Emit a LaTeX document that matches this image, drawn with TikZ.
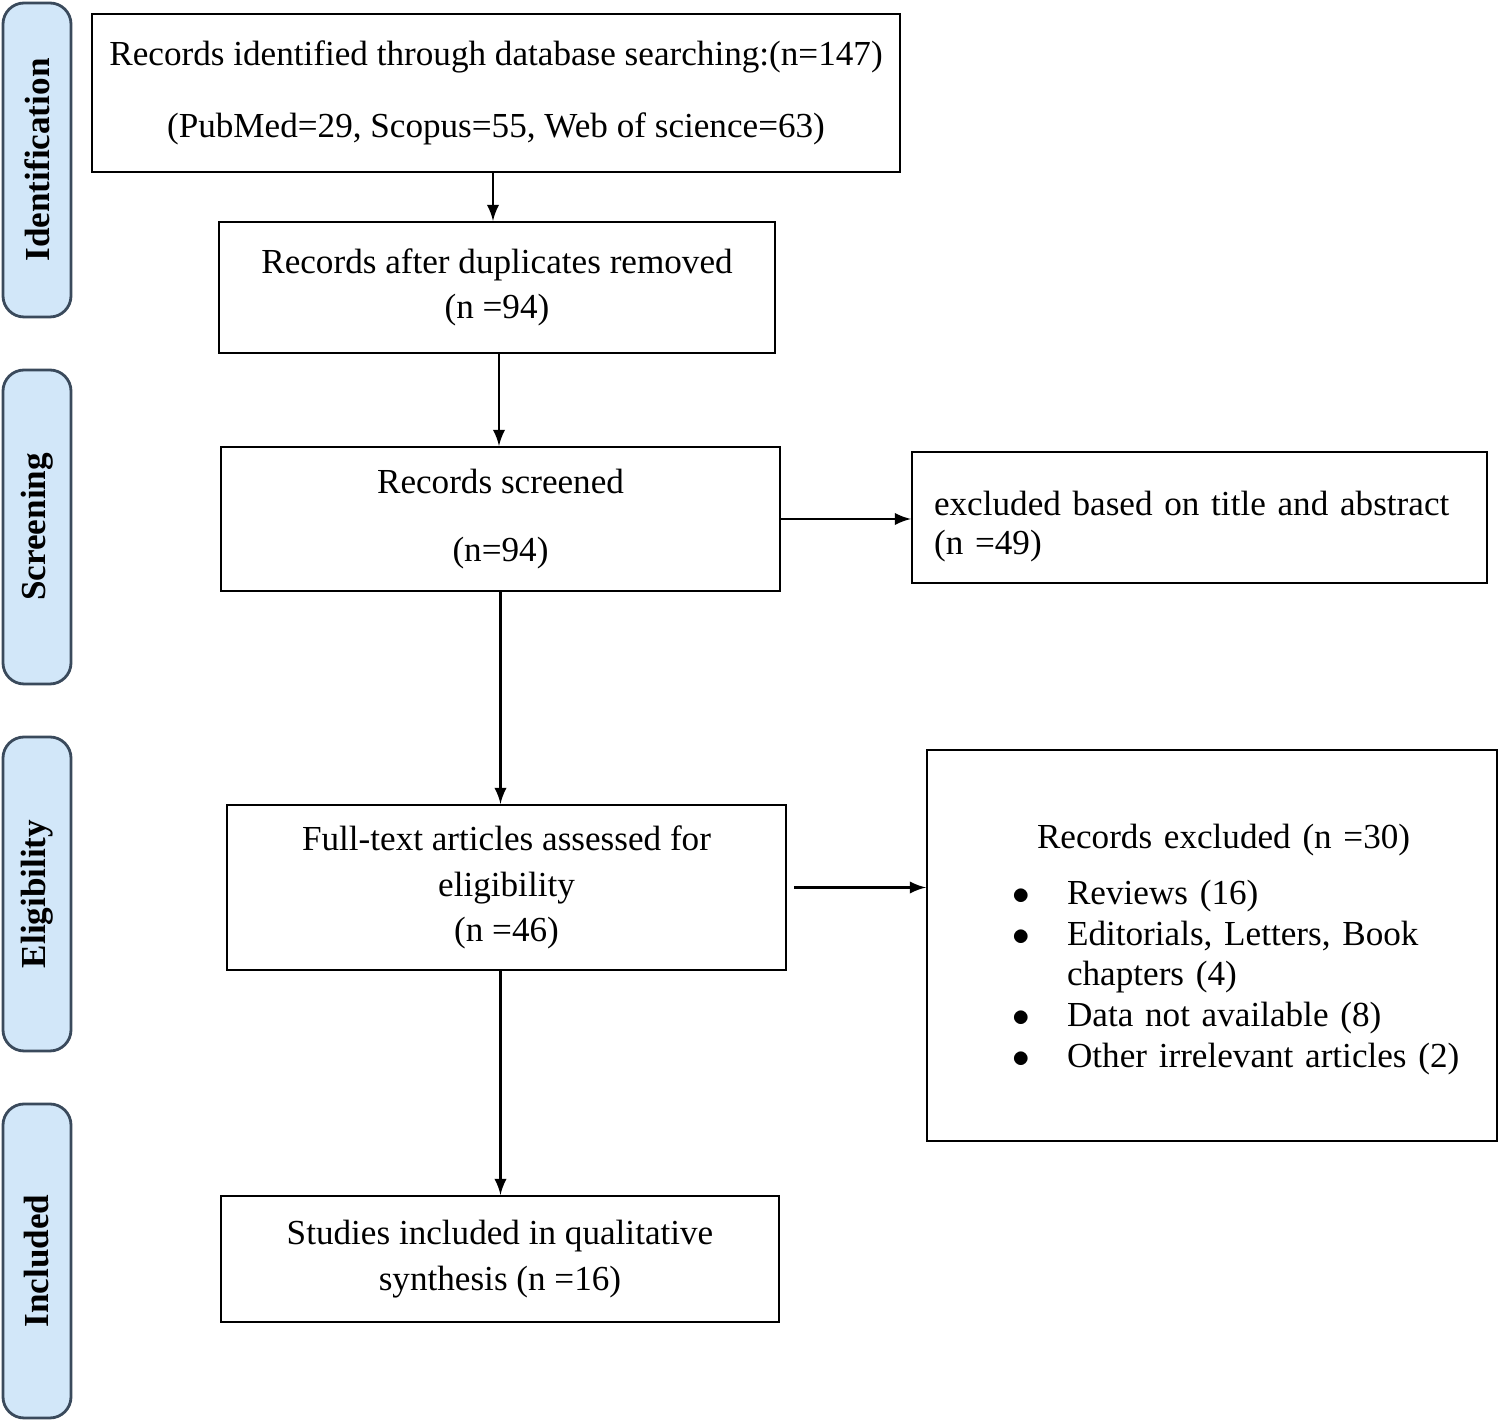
\documentclass[tikz,border=0pt]{standalone}
\usepackage{fontspec}
\setmainfont{Liberation Serif}
\usetikzlibrary{positioning}

\definecolor{barfill}{HTML}{D2E7F9}
\definecolor{barline}{HTML}{3A4A5C}

\tikzset{
  box/.style={draw,semithick,align=center,font=\fontsize{10}{13}\selectfont,inner sep=2pt},
  stage/.style={draw=barline,thick,fill=barfill,rounded corners=6pt,minimum width=0.68cm,minimum height=3.14cm},
  stagelabel/.style={rotate=90,font=\bfseries\fontsize{10}{12}\selectfont},
  arr/.style={semithick,-latex}
}

\begin{document}
\begin{tikzpicture}
  \useasboundingbox (0,0) rectangle (15,-14.21);
  % stage bars on the left
  \foreach \name/\yc in {Identification/1.60,Screening/5.27,Eligibility/8.94,Included/12.61}{
    \node[stage] (bar\name) at (0.37,-\yc) {};
    \node[stagelabel] (lab\name) at (bar\name) {\name};
  }
  % main boxes
  \node[box,minimum width=8.08cm,minimum height=1.58cm] (ident) at (4.96,-0.93)
    {Records identified through database searching:(n=147)\\[1.6ex](PubMed=29, Scopus=55, Web of science=63)};
  \node[box,minimum width=5.56cm,minimum height=1.31cm] (dupl) at (4.97,-2.875)
    {Records after duplicates removed\\(n =94)};
  \node[box,minimum width=5.59cm,minimum height=1.44cm] (screen) at (5.005,-5.19)
    {Records screened\\[1.4ex](n=94)};
  \node[box,minimum width=5.75cm,minimum height=1.31cm,anchor=north west,align=left,text width=5.55cm,inner sep=0pt] (excl) at (9.11,-4.51)
    {\rule{0pt}{2.6ex}\hspace*{0.12cm}excluded based on title and abstract\\[-0.4ex]\hspace*{0.12cm}(n =49)};
  \node[box,minimum width=5.70cm,minimum height=3.91cm,anchor=north west,align=left,text width=5.5cm,inner sep=0pt] (reject) at (9.26,-7.49)
    {\rule{0pt}{2.4ex}\hspace*{1.0cm}Records excluded (n =30)\\[0.8ex]
     \begin{tabular}{@{\hspace{0.75cm}}p{0.55cm}@{}l@{}}
       $\bullet$ & Reviews (16)\\[-0.3ex]
       $\bullet$ & Editorials, Letters, Book\\[-0.3ex]
                 & chapters (4)\\[-0.3ex]
       $\bullet$ & Data not available (8)\\[-0.3ex]
       $\bullet$ & Other irrelevant articles (2)
     \end{tabular}};
  \node[box,minimum width=5.59cm,minimum height=1.65cm] (full) at (5.065,-8.875)
    {Full-text articles assessed for\\eligibility\\(n =46)};
  \node[box,minimum width=5.58cm,minimum height=1.26cm] (incl) at (5.0,-12.59)
    {Studies included in qualitative\\synthesis (n =16)};
  % connectors
  \draw[arr] (ident.south -| dupl.north) ++(-0.04,0) coordinate (a1) -- (a1 |- dupl.north);
  \draw[arr] (dupl.south) ++(0.02,0) coordinate (a2) -- (a2 |- screen.north);
  \draw[arr] (screen) -- (excl.west |- screen);
  \draw[arr] (screen.south) -- (full.north -| screen.south);
  \draw[arr] ([xshift=0.07cm]full.east) -- (full.east -| reject.west);
  \draw[arr] (full.south -| screen.south) -- (incl.north -| screen.south);
\end{tikzpicture}
\end{document}
